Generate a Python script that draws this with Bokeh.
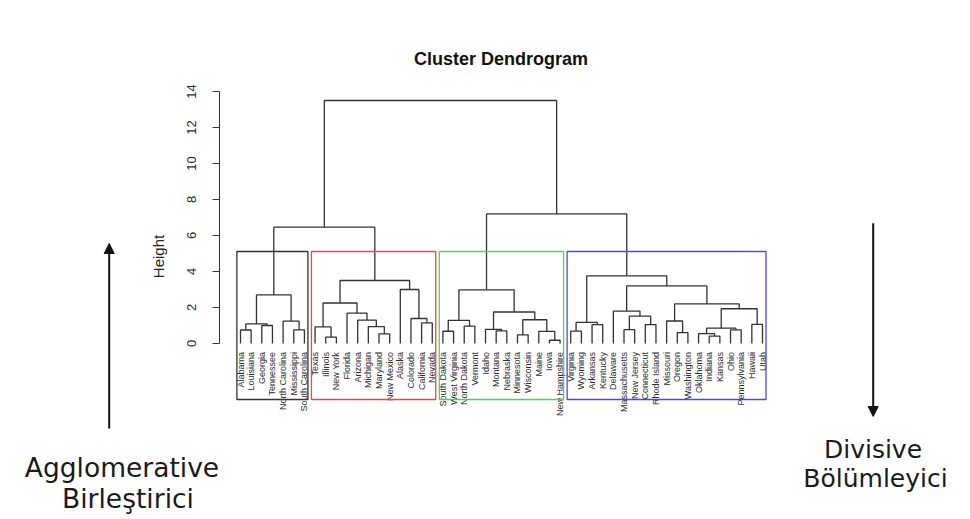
import math
from bokeh.plotting import figure
from bokeh.models import Range1d, LinearAxis, FixedTicker, Arrow, NormalHead
from bokeh.embed import file_html
from bokeh.resources import INLINE
from bokeh.core.properties import value

# ---------------- data ----------------
title_text = "Cluster Dendrogram"
y_axis_label = "Height"
y_ticks = [0, 2, 4, 6, 8, 10, 12, 14]

leaf_labels = [
    "Alabama", "Louisiana", "Georgia", "Tennessee", "North Carolina", "Mississippi", "South Carolina",
    "Texas", "Illinois", "New York", "Florida", "Arizona", "Michigan", "Maryland", "New Mexico",
    "Alaska", "Colorado", "California", "Nevada",
    "South Dakota", "West Virginia", "North Dakota", "Vermont", "Idaho", "Montana", "Nebraska",
    "Minnesota", "Wisconsin", "Maine", "Iowa", "New Hampshire",
    "Virginia", "Wyoming", "Arkansas", "Kentucky", "Delaware", "Massachusetts", "New Jersey",
    "Connecticut", "Rhode Island", "Missouri", "Oregon", "Washington", "Oklahoma", "Indiana",
    "Kansas", "Ohio", "Pennsylvania", "Hawaii", "Utah",
]

# hclust-style merge table: negative = leaf (1-based position), positive = earlier merge step
merge_left = [-1, -3, 1, -6, -5, 3,
              -9, -8, -14, -13, -12, -11, 8, -18, -17, -16, 13, 6,
              -20, -22, 19, -25, -24, -27, -30, -29, 24, 23, 21,
              -32, -34, 30, -37, -39, 33, -36, -42, -41, -45, -44, -47, 40, -49, 42, 38, 36, 32,
              29, 18]
merge_right = [-2, -4, 2, -7, 4, 5,
               -10, 7, -15, 9, 10, 11, 12, -19, 14, 15, 16, 17,
               -21, -23, 20, -26, 22, -28, -31, 25, 26, 27, 28,
               -33, -35, 31, -38, -40, 34, 35, -43, 37, -46, 39, -48, 41, -50, 43, 44, 45, 46,
               47, 48]
merge_height = [0.75, 1.00, 1.09, 0.76, 1.24, 2.70,
                0.35, 0.92, 0.53, 0.94, 1.30, 1.69, 2.25, 1.15, 1.39, 3.00, 3.50, 6.46,
                0.68, 0.96, 1.29, 0.70, 0.78, 0.48, 0.18, 0.67, 1.32, 1.75, 2.98,
                0.69, 1.05, 1.17, 0.77, 1.05, 1.52, 1.80, 0.60, 1.25, 0.41, 0.55, 0.76, 0.85,
                1.06, 1.93, 2.20, 3.20, 3.76,
                7.20, 13.50]

cluster_sizes = [7, 12, 12, 19]
cluster_colors = ["#333333", "#ef4545", "#55d055", "#4a4ae8"]

side_left_lines = ["Agglomerative", "Birleştirici"]
side_right_lines = ["Divisive", "Bölümleyici"]

# ---------------- layout (pixels) ----------------
W, H = 970, 519
n = len(leaf_labels)
LEAF1_PX, LEAFN_PX = 240.0, 762.0
ZERO_PX, PX_PER_UNIT = 343.0, 18.0
dx = (LEAFN_PX - LEAF1_PX) / (n - 1)


def X(px):
    return 1 + (px - LEAF1_PX) / dx


def Y(py):
    return (ZERO_PX - py) / PX_PER_UNIT


usr_left = 1 - 0.04 * (n - 1)        # R plot region left edge (axis position)
usr_bottom = Y(399)                  # R plot region bottom edge (box bottoms)
label_top = Y(351.5)                 # leaf labels hang from here

p = figure(width=W, height=H, x_range=Range1d(X(0), X(W)), y_range=Range1d(Y(H), Y(0)),
           x_axis_type=None, y_axis_type=None, toolbar_location=None,
           output_backend="svg", min_border=0)
p.outline_line_color = None
p.background_fill_color = "white"
p.border_fill_color = "white"

# ---------------- dendrogram ----------------
pos = {-(i + 1): (float(i + 1), 0.0) for i in range(n)}
seg_xs, seg_ys = [], []
for k, (a, b, h) in enumerate(zip(merge_left, merge_right, merge_height), start=1):
    xa, ya = pos[a]
    xb, yb = pos[b]
    seg_xs.append([xa, xa, xb, xb])
    seg_ys.append([ya, h, h, yb])
    pos[k] = ((xa + xb) / 2.0, h)
p.multi_line(seg_xs, seg_ys, line_color="#333333", line_width=1.3)

# leaf labels
p.text(x=list(range(1, n + 1)), y=[label_top] * n, text=leaf_labels, angle=math.pi / 2,
       text_align="right", text_baseline="middle", text_font=value("Liberation Sans"),
       text_font_size="9px", text_color="#2a2a2a")

# cluster rectangles (rect.hclust style)
hs = sorted(merge_height, reverse=True)
k = len(cluster_sizes)
box_top = (hs[k - 2] + hs[k - 1]) / 2.0
m = [0]
for s in cluster_sizes:
    m.append(m[-1] + s)
p.quad(left=[m[i] + 0.66 for i in range(k)], right=[m[i + 1] + 0.33 for i in range(k)],
       bottom=[usr_bottom] * k, top=[box_top] * k, fill_alpha=0,
       line_color=cluster_colors, line_width=1.3)

# y axis
yaxis = LinearAxis(fixed_location=usr_left, bounds=(min(y_ticks), max(y_ticks)),
                   ticker=FixedTicker(ticks=y_ticks))
yaxis.major_label_orientation = "parallel"
yaxis.axis_line_color = "#333333"
yaxis.major_tick_line_color = "#333333"
yaxis.major_tick_out = 7
yaxis.major_tick_in = 0
yaxis.minor_tick_line_color = None
yaxis.major_label_text_font = "Liberation Sans"
yaxis.major_label_text_font_size = "13px"
yaxis.major_label_text_color = "#2a2a2a"
yaxis.major_label_standoff = 17
p.add_layout(yaxis, "left")

# axis title and main title
p.text(x=[X(157.5)], y=[Y(256)], text=[y_axis_label], angle=math.pi / 2, text_align="center",
       text_baseline="middle", text_font=value("Liberation Sans"), text_font_size="15px",
       text_color="#222222")
p.text(x=[X(500.5)], y=[Y(58.3)], text=[title_text], text_align="center",
       text_baseline="alphabetic", text_font=value("Liberation Sans"), text_font_size="18px",
       text_font_style="bold", text_color="#111111")

# side arrows and captions
for xs, y0, y1 in [(108.7, 428, 243), (872.7, 222.7, 416)]:
    p.add_layout(Arrow(end=NormalHead(size=10, fill_color="#111111", line_color="#111111"),
                       x_start=X(xs), y_start=Y(y0), x_end=X(xs), y_end=Y(y1),
                       line_width=2, line_color="#111111"))

p.text(x=[X(121.5), X(127.5)], y=[Y(467.3), Y(498.3)], text=side_left_lines,
       text_align="center", text_baseline="alphabetic", text_font=value("DejaVu Sans"),
       text_font_size="26.5px", text_color="#1a1a1a")
p.text(x=[X(872.5), X(875)], y=[Y(449), Y(478)], text=side_right_lines,
       text_align="center", text_baseline="alphabetic", text_font=value("DejaVu Sans"),
       text_font_size="25px", text_color="#1a1a1a")

open("out.html", "w").write(file_html(p, INLINE))
